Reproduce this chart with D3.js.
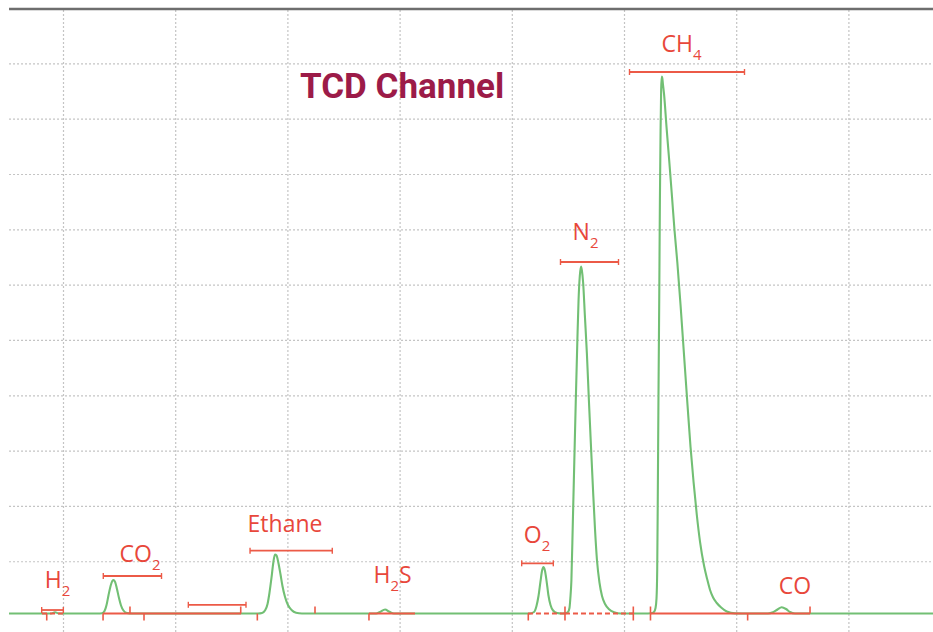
<!DOCTYPE html>
<html>
<head>
<meta charset="utf-8">
<script src="https://cdn.jsdelivr.net/npm/d3@7"></script>
<style>
  html, body { margin: 0; padding: 0; background: #ffffff; }
  svg { display: block; }
</style>
</head>
<body>
<svg id="chart" width="933" height="632"></svg>
<script>
// ---- TCD detector trace (time in min, signal in arbitrary units) ----
const traceTime = [
  0.519, 0.795, 0.893, 0.929, 0.964,
  1.312, 1.348, 1.370, 1.388, 1.406, 1.424, 1.439, 1.452, 1.465, 1.481, 1.499, 1.517, 1.539, 1.570, 1.615,
  2.738, 2.774, 2.800, 2.823, 2.840, 2.858, 2.874, 2.889, 2.903, 2.920, 2.938, 2.956, 2.979, 3.005, 3.037, 3.077, 3.130,
  3.790, 3.825, 3.870, 3.910, 3.950,
  5.162, 5.198, 5.220, 5.238, 5.256, 5.271, 5.282, 5.294, 5.310, 5.326, 5.345, 5.368, 5.403, 5.448,
  5.474, 5.501, 5.514, 5.522, 5.531, 5.544, 5.557, 5.570, 5.584, 5.595, 5.606, 5.617, 5.624, 5.636, 5.651,
  5.669, 5.687, 5.706, 5.724, 5.742, 5.759, 5.782, 5.804, 5.831, 5.867, 5.911, 5.973,
  6.187, 6.241, 6.267, 6.281, 6.290, 6.296, 6.301, 6.307, 6.314, 6.320, 6.326, 6.331, 6.336, 6.341, 6.348,
  6.357, 6.379, 6.404, 6.428, 6.450, 6.475, 6.504, 6.535, 6.566, 6.593, 6.620, 6.649, 6.678, 6.714, 6.741,
  6.767, 6.794, 6.827, 6.866, 6.916, 6.990, 7.053,
  7.283, 7.328, 7.368, 7.405, 7.444, 7.479, 7.524, 8.754
];
const traceSignal = [
  5.6, 5.6, 5.6, 7.8, 5.6,
  5.6, 6.0, 10.1, 21.0, 39.0, 55.3, 64.3, 66.1, 62.5, 49.9, 33.6, 20.1, 11.0, 6.5, 5.6,
  5.6, 6.5, 11.0, 22.8, 42.7, 69.8, 96.9, 112.2, 110.4, 96.9, 77.0, 55.3, 35.4, 21.0, 11.9, 6.9, 5.6,
  5.6, 8.3, 12.8, 8.7, 5.6,
  5.6, 8.3, 19.2, 37.2, 64.3, 84.2, 89.6, 84.2, 64.3, 39.0, 21.0, 11.0, 6.5, 5.6,
  5.8, 8.3, 15.5, 33.6, 64.3, 171.0, 279.4, 387.9, 496.3, 572.2, 615.6, 632.7, 626.4, 602.9, 545.1,
  476.4, 391.5, 306.5, 228.8, 156.5, 102.3, 60.7, 37.2, 22.8, 13.2, 8.0, 5.6,
  5.6, 6.1, 8.3, 15.5, 33.6, 84.2, 210.7, 391.5, 572.2, 752.9, 879.4, 951.7, 976.1, 973.4, 960.7,
  944.5, 884.8, 821.6, 758.4, 698.7, 640.9, 563.2, 472.8, 382.5, 306.6, 243.3, 183.6, 134.8, 91.5, 68.0,
  48.1, 34.5, 24.6, 16.4, 9.2, 5.8, 5.6,
  5.6, 7.8, 12.8, 16.8, 13.7, 8.3, 5.6, 5.6
];
const baselineLevel = 5.6;

// ---- integration windows drawn above peaks ----
const windowStart = [0.810, 1.359, 2.117, 2.667, 5.088, 5.434, 6.049];
const windowEnd   = [1.003, 1.878, 2.631, 3.400, 5.370, 5.951, 7.074];
const windowLevel = [11.9, 73.4, 21.3, 119.1, 96.3, 640.9, 984.3];

// ---- integration baseline segments ----
const segmentStart = [0.813, 1.357, 3.727, 5.144, 5.474, 6.232];
const segmentEnd   = [1.000, 2.586, 4.137, 5.474, 6.080, 7.658];

// ---- peak start / end / split marks on the baseline ----
const markTime = [0.855, 1.357, 1.597, 1.722, 2.584, 2.732, 3.246, 3.727, 5.147, 5.474, 6.083, 6.236, 7.102, 7.658];
const markKind = ["start", "start", "end", "start", "end", "start", "end", "start", "start", "split", "split", "split", "start", "end"];

// ---- compound labels (main text, subscript, trailing text) ----
const labelMain = ["H", "CO", "Ethane", "H", "O", "N", "CH", "CO"];
const labelSub  = ["2", "2", "", "2", "2", "2", "4", ""];
const labelTail = ["", "", "", "S", "", "", "", ""];
const labelTime  = [0.951, 1.686, 2.979, 3.937, 5.225, 5.657, 6.512, 7.524];
const labelLevel = [51.7, 98.7, 152.9, 60.2, 133.0, 680.6, 1021.0, 40.8];

// ---- grid ----
const gridTimes  = [1, 2, 3, 4, 5, 6, 7, 8];
const gridLevels = [100, 200, 300, 400, 500, 600, 700, 800, 900, 1000];
const topLevel = 1100;

// ---------------------------------------------------------------
const W = 933, H = 632;
const svg = d3.select("#chart");

const x = d3.scaleLinear().domain([0.5, 8.75]).range([6.9, 932.55]);
const y = d3.scaleLinear().domain([0, 1100]).range([616.6, 8.0]);

const left = x(traceTime[0]);
const red = "#ec5a47";
const redText = "#e8473b";
const green = "#72bf74";

// grid via axes
const gridColor = "#c4c4c4";
const xGrid = svg.append("g")
  .attr("transform", `translate(0,${H})`)
  .call(d3.axisBottom(x).tickValues(gridTimes).tickSize(-(H - y(topLevel))).tickFormat(""));
const yGrid = svg.append("g")
  .attr("transform", `translate(${left},0)`)
  .call(d3.axisLeft(y).tickValues(gridLevels).tickSize(-(W - left)).tickFormat(""));
[xGrid, yGrid].forEach(g => {
  g.select(".domain").remove();
  g.selectAll(".tick line")
    .attr("stroke", gridColor)
    .attr("stroke-width", 1.2)
    .attr("stroke-dasharray", "2,2");
});

// top frame line
svg.append("line")
  .attr("x1", left).attr("x2", W)
  .attr("y1", y(topLevel) + 1).attr("y2", y(topLevel) + 1)
  .attr("stroke", "#6e6e6e")
  .attr("stroke-width", 2.5);

// title
svg.append("text")
  .attr("x", 300).attr("y", 98)
  .attr("font-family", "Roboto, 'Open Sans', sans-serif")
  .attr("font-weight", 700)
  .attr("font-size", 35)
  .attr("fill", "#9c1b48")
  .text("TCD Channel");

// detector trace
const pts = traceTime.map((t, i) => [t, traceSignal[i]]);
svg.append("path")
  .datum(pts)
  .attr("fill", "none")
  .attr("stroke", green)
  .attr("stroke-width", 2.1)
  .attr("stroke-linejoin", "round")
  .attr("d", d3.line().x(d => x(d[0])).y(d => y(d[1])).curve(d3.curveMonotoneX));

// integration baselines
const dashedSegments = new Set([0, 3, 4]);
segmentStart.forEach((s, i) => {
  svg.append("line")
    .attr("x1", x(s)).attr("x2", x(segmentEnd[i]))
    .attr("y1", y(baselineLevel)).attr("y2", y(baselineLevel))
    .attr("stroke", red)
    .attr("stroke-width", 2)
    .attr("stroke-dasharray", dashedSegments.has(i) ? "5,3" : null);
});

// start / end / split marks
const markExtent = { start: [0, 7], end: [-7, 0], split: [-7, 7] };
markTime.forEach((t, i) => {
  const e = markExtent[markKind[i]];
  svg.append("line")
    .attr("x1", x(t)).attr("x2", x(t))
    .attr("y1", y(baselineLevel) + e[0]).attr("y2", y(baselineLevel) + e[1])
    .attr("stroke", red)
    .attr("stroke-width", 1.6);
});

// peak windows with end caps
windowStart.forEach((s, i) => {
  const yy = y(windowLevel[i]);
  const g = svg.append("g").attr("stroke", red).attr("stroke-width", 1.8);
  g.append("line").attr("x1", x(s)).attr("x2", x(windowEnd[i])).attr("y1", yy).attr("y2", yy);
  [s, windowEnd[i]].forEach(t => {
    g.append("line").attr("x1", x(t)).attr("x2", x(t)).attr("y1", yy - 3).attr("y2", yy + 3)
      .attr("stroke-width", 1.4);
  });
});

// compound labels
labelMain.forEach((m, i) => {
  const txt = svg.append("text")
    .attr("x", x(labelTime[i])).attr("y", y(labelLevel[i]))
    .attr("text-anchor", "middle")
    .attr("font-family", "'Open Sans', 'Noto Sans', sans-serif")
    .attr("font-size", 23)
    .attr("fill", redText);
  txt.append("tspan").text(m);
  if (labelSub[i]) {
    txt.append("tspan").attr("dy", 8).attr("font-size", 15).text(labelSub[i]);
    if (labelTail[i]) txt.append("tspan").attr("dy", -8).text(labelTail[i]);
  }
});
</script>
</body>
</html>
